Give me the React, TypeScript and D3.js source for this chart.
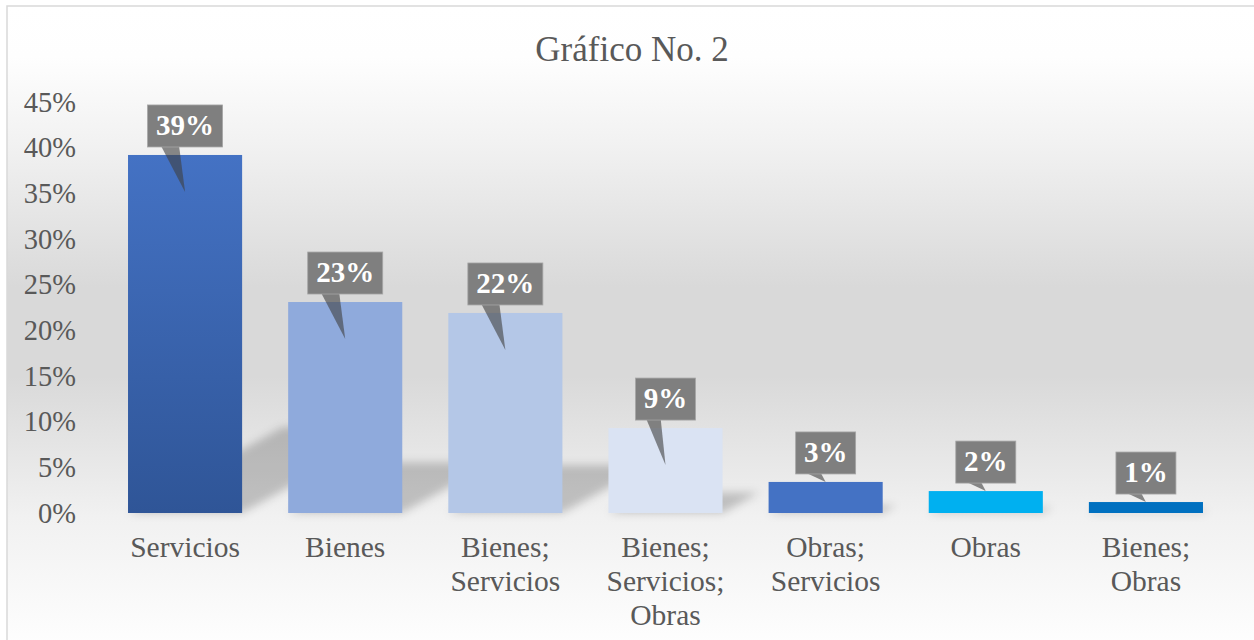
import React from 'react';
import * as d3 from 'd3';

const categories = [
  ['Servicios'],
  ['Bienes'],
  ['Bienes;', 'Servicios'],
  ['Bienes;', 'Servicios;', 'Obras'],
  ['Obras;', 'Servicios'],
  ['Obras'],
  ['Bienes;', 'Obras'],
];
const values = [39.2, 23.1, 21.9, 9.3, 3.4, 2.4, 1.2];
const barColors = ['url(#gradServ)', '#8FAADC', '#B4C7E7', '#DAE3F3', '#4472C4', '#00B0F0', '#0070C0'];
const yTicks = [0, 5, 10, 15, 20, 25, 30, 35, 40, 45];

const W = 1254;
const H = 640;
const FONT = '"Liberation Serif", "Times New Roman", serif';
const TXT = '#595959';

export default function App() {
  const x = d3.scaleBand<number>()
    .domain(values.map((_, i) => i))
    .range([105, 1226])
    .paddingInner(0.2875)
    .paddingOuter(0.14375);
  const y = d3.scaleLinear().domain([0, 45]).range([513, 102]);
  const base = y(0);

  return (
    <div style={{ position: 'fixed', left: 0, top: 0 }}>
      <svg width={W} height={H} style={{ display: 'block' }}>
        <defs>
          <linearGradient id="bg" gradientUnits="userSpaceOnUse" x1="0" y1="6" x2="0" y2="645">
            <stop offset="0" stopColor="#FFFFFF" />
            <stop offset="0.08" stopColor="#FEFEFE" />
            <stop offset="0.22" stopColor="#F1F1F1" />
            <stop offset="0.44" stopColor="#D9D9D9" />
            <stop offset="0.58" stopColor="#D9D9D9" />
            <stop offset="0.80" stopColor="#F1F1F1" />
            <stop offset="1" stopColor="#FEFEFE" />
          </linearGradient>
          <linearGradient id="gradServ" x1="0" y1="0" x2="0" y2="1">
            <stop offset="0" stopColor="#4472C4" />
            <stop offset="1" stopColor="#2F5597" />
          </linearGradient>
          <filter id="blur" x="-20%" y="-50%" width="140%" height="200%">
            <feGaussianBlur stdDeviation="4" />
          </filter>
        </defs>

        <rect x={7} y={6} width={1270} height={660} fill="url(#bg)" stroke="#D9D9D9" strokeWidth={1.5} />

        <text x={632} y={61} textAnchor="middle" fontFamily={FONT} fontSize={35} fill={TXT}>
          Gráfico No. 2
        </text>

        {yTicks.map(t => (
          <text key={t} x={76} y={y(t) + 9.5} textAnchor="end" fontFamily={FONT} fontSize={28.5} fill={TXT}>
            {t}%
          </text>
        ))}

        {/* perspective shadows */}
        <g filter="url(#blur)">
          {values.map((v, i) => {
            const x0 = x(i)!;
            const x1 = x0 + x.bandwidth();
            const h = (base - y(v)) * 0.24;
            const dx = h * 1.8;
            const pts = [[x0, base], [x1, base], [x1 + dx, base - h], [x0 + dx, base - h]];
            return <polygon key={i} points={pts.map(p => p.join(',')).join(' ')} fill="rgba(0,0,0,0.2)" />;
          })}
        </g>

        {values.map((v, i) => (
          <rect key={i} x={x(i)} y={y(v)} width={x.bandwidth()} height={base - y(v)} fill={barColors[i]} />
        ))}

        {categories.map((lines, i) => (
          <text key={i} textAnchor="middle" fontFamily={FONT} fontSize={29.5} fill={TXT}>
            {lines.map((l, j) => (
              <tspan key={j} x={x(i)! + x.bandwidth() / 2} y={557 + j * 34}>{l}</tspan>
            ))}
          </text>
        ))}

        {values.map((v, i) => {
          const label = Math.round(v) + '%';
          const cx = x(i)! + x.bandwidth() / 2;
          const top = y(v);
          const bw = label.length > 2 ? 75 : 60;
          const bh = 42;
          const bx = cx - bw / 2;
          const by = top - 8 - bh;
          const tipY = base - top > 60 ? top + 37 : top;
          const pointer = `M${bx + bw * 0.18},${by + bh - 1} L${bx + bw * 0.42},${by + bh - 1} L${cx},${tipY} Z`;
          return (
            <g key={i}>
              <path d={pointer} fill="#404040" fillOpacity={0.6} />
              <rect x={bx} y={by} width={bw} height={bh} fill="#7F7F7F" stroke="#A6A6A6" strokeWidth={0.8} />
              <text x={cx} y={by + 30} textAnchor="middle" fontFamily={FONT} fontWeight="bold" fontSize={29} fill="#FFFFFF">
                {label}
              </text>
            </g>
          );
        })}
      </svg>
    </div>
  );
}
